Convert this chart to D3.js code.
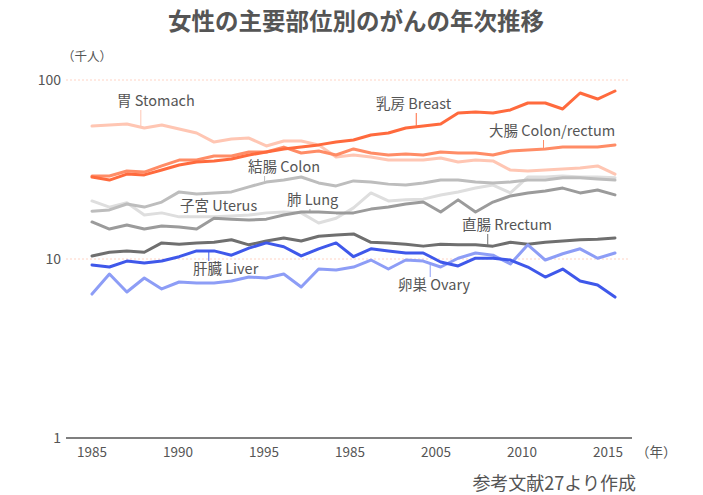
<!DOCTYPE html>
<html><head><meta charset="utf-8">
<script src="https://cdn.jsdelivr.net/npm/d3@7"></script>
<style>
html,body{margin:0;padding:0;background:#fff;}
svg{display:block;font-family:"Noto Sans CJK JP","Noto Sans",sans-serif;}
</style></head><body>
<svg id="chart" width="703" height="495"></svg>
<script>
// ---- data (thousand persons) ----
const years = [1985,1986,1987,1988,1989,1990,1991,1992,1993,1994,1995,1996,1997,1998,1999,2000,2001,2002,2003,2004,2005,2006,2007,2008,2009,2010,2011,2012,2013,2014,2015];
const xTickYears = [1985,1990,1995,2000,2005,2010,2015];
const xTickLabels = ["1985","1990","1995","1985","2005","2010","2015"];
const yTickValues = [1,10,100];

const stomach = [55.3,56.1,56.8,53.9,56.1,53.2,50.6,45.0,46.8,47.4,42.8,45.6,45.6,43.4,37.1,38.1,37.1,35.7,35.7,35.7,36.7,34.8,35.7,35.3,31.4,31.0,31.4,31.8,32.2,33.1,29.8];
const breast = [28.7,27.6,29.8,29.5,31.4,33.5,34.8,35.3,36.2,38.1,39.6,41.2,42.2,43.4,45.0,46.2,49.3,50.6,53.9,55.3,56.8,65.4,66.3,65.4,68.0,74.4,74.4,68.9,84.6,78.3,86.8];
const colorectal = [29.1,29.1,31.0,30.6,33.1,35.7,35.7,37.6,37.6,39.6,39.6,42.2,39.1,40.1,38.1,41.2,39.1,38.1,38.6,38.1,39.6,39.1,39.1,38.1,40.1,40.6,41.2,42.2,42.2,42.2,43.4];
const colon = [18.5,18.8,20.3,19.5,20.8,23.7,23.1,23.4,23.7,25.3,26.9,27.6,28.7,26.6,25.6,27.3,26.9,26.2,25.9,26.6,27.6,27.6,26.9,26.6,26.9,27.6,27.6,28.4,28.4,28.0,27.6];
const uterus = [21.1,19.5,20.6,17.6,18.1,17.2,17.2,17.2,17.4,17.6,18.1,18.3,18.1,15.9,16.9,19.3,23.4,21.1,21.4,21.6,22.8,23.7,24.9,25.9,23.4,28.7,28.7,29.1,28.7,28.7,28.4];
const lung = [16.1,14.7,15.5,14.7,15.3,15.1,14.7,16.9,16.7,16.5,16.7,17.6,18.3,18.3,18.1,18.1,19.0,19.5,20.3,20.8,18.3,21.4,18.3,20.8,22.5,23.4,24.0,24.9,23.4,24.3,22.8];
const rectum = [10.4,10.9,11.1,10.9,12.3,12.1,12.3,12.4,12.8,12.0,12.6,13.1,12.6,13.4,13.6,13.8,12.4,12.3,12.1,11.8,12.1,12.0,12.0,11.8,12.4,12.1,12.4,12.6,12.8,12.9,13.1];
const liver = [9.26,9.02,9.74,9.50,9.74,10.3,11.1,11.1,10.5,11.5,12.3,11.7,10.4,11.4,12.3,10.3,11.4,11.1,10.8,10.8,9.62,9.14,10.1,10.1,9.87,9.02,7.93,8.79,7.53,7.16,6.13];
const ovary = [6.37,8.24,6.54,7.83,6.80,7.44,7.34,7.34,7.53,7.93,7.83,8.24,6.97,8.79,8.68,9.02,9.87,8.79,9.87,9.74,9.02,10.1,10.8,10.5,9.38,12.0,9.87,10.7,11.4,10.1,10.8];

const seriesNames = ["uterus","colon","lung","rectum","stomach","colorectal","breast","ovary","liver"];
const seriesValues = {stomach, breast, colorectal, colon, uterus, lung, rectum, liver, ovary};
const seriesColors = {
  stomach:"#ffc6b3", breast:"#ff6a3d", colorectal:"#ff8c66", colon:"#bdbdbd",
  uterus:"#dedede", lung:"#9b9b9b", rectum:"#6f6f6f", liver:"#3f58ea", ovary:"#8d9df6"
};
// label text, year where the leader meets the line, label anchor, side
const annotations = [
  {s:"stomach",   text:"胃 Stomach",        year:1987.8, tx:117, ty:106, side:"above"},
  {s:"breast",    text:"乳房 Breast",       year:2003.6, tx:376, ty:109, side:"above"},
  {s:"colorectal",text:"大腸 Colon/rectum", year:2010.9, tx:489, ty:136, side:"above"},
  {s:"colon",     text:"結腸 Colon",        year:1994.9, tx:248, ty:172, side:"above"},
  {s:"uterus",    text:"子宮 Uterus",       year:1990.5, tx:180, ty:211, side:"above"},
  {s:"lung",      text:"肺 Lung",           year:1997.5, tx:287, ty:205, side:"above"},
  {s:"rectum",    text:"直腸 Rrectum",      year:2007.7, tx:462, ty:230, side:"above"},
  {s:"liver",     text:"肝臓 Liver",        year:1991.7, tx:193, ty:274, side:"below"},
  {s:"ovary",     text:"卵巣 Ovary",        year:2004.4, tx:398, ty:290, side:"below"}
];

// ---- drawing ----
const svg = d3.select("#chart");
const x = d3.scaleLinear().domain([1985,2015]).range([92,615]);
const xLabel = d3.scaleLinear().domain([1985,2015]).range([92,608]);
const y = d3.scaleLog().domain([1,100]).range([438,80]);
const txt = "#555";

svg.append("text").attr("x",356).attr("y",30).attr("text-anchor","middle")
  .attr("font-size",23.5).attr("font-weight","bold").attr("fill",txt)
  .text("女性の主要部位別のがんの年次推移");

svg.append("text").attr("x",62).attr("y",61).attr("font-size",12.5).attr("fill",txt).text("（千人）");

// gridlines
svg.append("g").selectAll("line").data([10,100]).join("line")
  .attr("x1",66).attr("x2",630).attr("y1",d=>y(d)).attr("y2",d=>y(d))
  .attr("stroke","#ffd3c4").attr("stroke-width",1).attr("stroke-dasharray","2,2");

// axis line
svg.append("line").attr("x1",66).attr("x2",632).attr("y1",y(1)).attr("y2",y(1))
  .attr("stroke","#555").attr("stroke-width",1.5);

svg.append("g").selectAll("text").data(yTickValues).join("text")
  .attr("x",61).attr("y",d=>y(d)).attr("dy","0.35em").attr("text-anchor","end")
  .attr("font-size",14).attr("fill",txt).text(d=>d);

svg.append("g").selectAll("text").data(xTickYears).join("text")
  .attr("x",d=>xLabel(d)).attr("y",457).attr("text-anchor","middle")
  .attr("font-size",13.5).attr("fill",txt).text((d,i)=>xTickLabels[i]);

svg.append("text").attr("x",636).attr("y",457).attr("font-size",13.5).attr("fill",txt).text("（年）");

svg.append("text").attr("x",636).attr("y",490).attr("text-anchor","end")
  .attr("font-size",18).attr("fill",txt).text("参考文献27より作成");

// lines
const line = d3.line().x((d,i)=>x(years[i])).y(d=>y(d));
svg.append("g").selectAll("path").data(seriesNames).join("path")
  .attr("d",k=>line(seriesValues[k]))
  .attr("fill","none").attr("stroke",k=>seriesColors[k])
  .attr("stroke-width",3).attr("stroke-linejoin","round").attr("stroke-linecap","round");

// annotations
function valueAt(k, yr){
  const v = seriesValues[k];
  const i = Math.min(Math.floor(yr-1985), v.length-2);
  const t = yr-1985-i;
  return Math.exp(Math.log(v[i])*(1-t)+Math.log(v[i+1])*t);
}
const ag = svg.append("g");
annotations.forEach(a=>{
  const lx = x(a.year);
  const ly = y(valueAt(a.s,a.year));
  if(a.side==="above"){
    ag.append("line").attr("x1",lx).attr("x2",lx).attr("y1",a.ty+4).attr("y2",ly-1)
      .attr("stroke",seriesColors[a.s]).attr("stroke-width",1);
  } else {
    ag.append("line").attr("x1",lx).attr("x2",lx).attr("y1",ly+1).attr("y2",a.ty-13)
      .attr("stroke",seriesColors[a.s]).attr("stroke-width",1);
  }
  ag.append("text").attr("x",a.tx).attr("y",a.ty).attr("font-size",14.5).attr("fill",txt).text(a.text);
});
</script>
</body></html>
